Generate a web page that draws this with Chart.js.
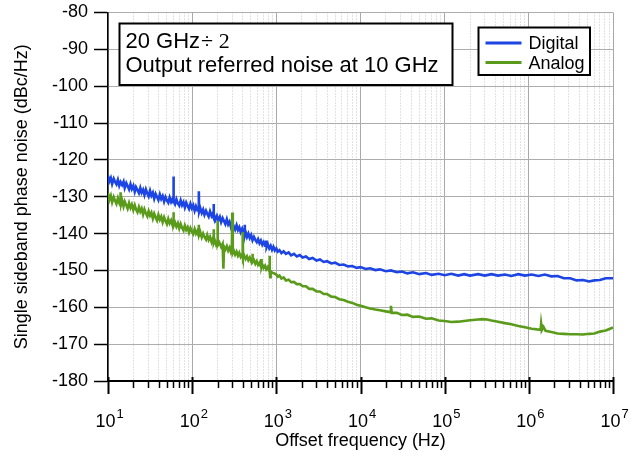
<!DOCTYPE html>
<html>
<head>
<meta charset="utf-8">
<script src="https://cdn.jsdelivr.net/npm/chart.js@4.4.1/dist/chart.umd.min.js"></script>
<style>
  html,body{margin:0;padding:0;background:#fff}
  #wrap{width:637px;height:456px}
</style>
</head>
<body>
<div id="wrap"><canvas id="c"></canvas></div>
<script>
// [offset frequency Hz, dBc/Hz]
const digitalTrace = [
  [10,-124.3],[10.4,-125.8],[10.8,-124.9],[11.2,-126.5],[11.7,-125.1],[12.1,-125.9],[12.6,-126.6],[13.1,-125.4],[13.6,-127.0],[14.1,-126.0],
  [14.7,-126.8],[15.3,-125.9],[15.8,-127.6],[16.5,-126.3],[17.1,-127.1],[17.8,-128.0],[18.5,-126.6],[19.2,-127.9],[20,-127.0],[20.8,-128.6],
  [21.5,-127.4],[22.4,-128.2],[23.3,-129.0],[24.2,-127.6],[25.1,-128.9],[26.1,-128.1],[27.1,-129.5],[28.2,-128.0],[29.3,-129.1],[30.4,-129.9],
  [31.6,-128.4],[32.8,-129.7],[34.1,-128.9],[35.4,-130.5],[36.8,-129.2],[38.2,-130.0],[39.7,-130.9],[41.3,-129.4],[42.9,-130.6],[44.6,-129.8],
  [46.4,-131.3],[48.2,-130.1],[50.1,-131.0],[52,-131.6],[54,-130.2],[56.2,-131.4],[58.4,-130.6],[59.6,-131.5],[60,-124.5],[60.4,-131.2],
  [62.6,-132.0],[65,-130.7],[67.6,-131.8],[70.2,-132.4],[73,-131.0],[75.8,-132.3],[78.8,-131.5],[81.8,-132.9],[85,-131.6],[88.3,-132.5],
  [91.8,-133.3],[95.4,-131.9],[99.1,-133.1],[103,-132.3],[107,-133.8],[111,-132.6],[115,-133.5],[119,-133.0],[120,-128.5],[121,-134.1],
  [125,-133.1],[130,-134.4],[135,-133.5],[140,-134.9],[146,-133.8],[151,-134.6],[157,-135.4],[163,-134.0],[170,-135.2],[176,-134.5],
  [179,-135.6],[180,-132.0],[181,-135.8],[183,-135.1],[190,-136.2],[197,-135.2],[205,-136.4],[213,-135.5],[221,-136.9],[230,-135.8],
  [239,-136.6],[248,-137.4],[258,-136.1],[268,-137.5],[278,-136.8],[289,-138.2],[300,-137.1],[312,-138.0],[324,-138.9],[337,-137.7],
  [350,-139.0],[363,-138.3],[377,-139.6],[392,-138.7],[407,-139.9],[416,-139.4],[420,-137.6],[424,-140.4],[431,-139.5],[448,-140.9],
  [465,-140.0],[483,-141.2],[502,-140.4],[521,-141.8],[542,-140.9],[563,-141.7],[585,-142.3],[607,-141.5],[631,-142.6],[655,-141.9],
  [681,-143.0],[707,-142.3],[735,-143.3],[753,-142.7],[760,-141.9],[767,-143.7],[793,-142.9],[824,-144.0],[856,-143.3],[889,-144.4],
  [924,-143.6],[960,-144.6],[1000,-144.0],[1040,-144.9],[1090,-144.5],[1150,-145.3],[1220,-144.8],[1300,-145.5],[1400,-145.1],[1500,-145.9],
  [1620,-145.5],[1750,-146.2],[1900,-145.8],[2050,-146.5],[2250,-146.2],[2450,-146.9],[2700,-146.6],[3000,-147.3],[3300,-147.0],[3650,-147.7],
  [4000,-147.5],[4500,-148.1],[5000,-147.9],[5600,-148.5],[6300,-148.4],[7100,-148.9],[8000,-148.8],[9000,-149.3],[1e4,-149.1],[1.15e4,-149.6],
  [1.3e4,-149.4],[1.5e4,-149.9],[1.7e4,-149.7],[2e4,-150.2],[2.3e4,-150.0],[2.7e4,-150.5],[3.1e4,-150.3],[3.6e4,-150.8],[4.2e4,-150.5],[5e4,-151.0],
  [6e4,-150.7],[7e4,-151.2],[8.5e4,-150.9],[1e5,-151.3],[1.2e5,-150.9],[1.45e5,-151.4],[1.7e5,-151.0],[2e5,-151.4],[2.5e5,-151.0],[3e5,-151.4],
  [3.6e5,-151.0],[4.3e5,-151.4],[5.2e5,-151.1],[6.2e5,-151.5],[7.5e5,-151.0],[9e5,-151.4],[1.08e6,-151.1],[1.3e6,-151.5],[1.55e6,-151.1],[1.85e6,-151.6],
  [2.2e6,-151.5],[2.6e6,-152.1],[3.1e6,-152.1],[3.7e6,-152.7],[4.4e6,-152.6],[5.2e6,-153.0],[6e6,-152.7],[7e6,-152.6],[8.2e6,-152.1],[1e7,-152.1]
];
const analogTrace = [
  [10,-129.0],[10.4,-130.8],[10.8,-129.7],[11.2,-131.5],[11.7,-130.1],[12.1,-131.0],[12.6,-131.9],[13.1,-130.4],[13.6,-131.6],[13.9,-130.9],
  [14.1,-128.8],[14.3,-132.0],[14.7,-131.0],[15.3,-132.6],[15.8,-131.3],[16.5,-132.3],[17.1,-133.2],[17.8,-131.7],[18.5,-133.0],[19.2,-132.1],
  [20,-133.6],[20.8,-132.3],[21.5,-133.4],[22.4,-134.2],[23.3,-132.8],[24.2,-134.0],[25.1,-133.2],[26.1,-134.8],[27.1,-133.4],[28.2,-134.5],
  [29.3,-135.3],[30.4,-133.9],[31.6,-135.1],[32.8,-134.3],[34.1,-135.9],[35.4,-134.6],[36.8,-135.6],[38.2,-136.4],[39.7,-134.9],[41.3,-136.2],
  [42.9,-135.4],[44.6,-136.9],[46.4,-135.6],[48.2,-136.6],[50.1,-137.4],[52,-136.0],[54,-137.2],[56.2,-136.4],[58.4,-137.7],[59.6,-136.8],
  [60,-134.2],[60.4,-137.9],[62.6,-137.0],[65,-138.1],[67.6,-137.2],[70.2,-138.6],[73,-137.4],[75.8,-138.4],[78.8,-139.1],[81.8,-137.8],
  [85,-139.0],[88.3,-138.3],[91.8,-139.7],[95.4,-138.5],[99.1,-139.4],[103,-140.1],[107,-138.8],[111,-140.0],[115,-139.3],[119,-140.5],
  [120,-137.6],[121,-140.4],[125,-139.6],[130,-141.0],[135,-140.0],[140,-140.9],[146,-141.6],[151,-140.4],[157,-141.7],[163,-140.9],
  [170,-142.3],[176,-141.3],[179,-142.1],[180,-138.8],[181,-142.6],[186,-141.9],[192,-142.9],[198,-142.2],[200,-136.5],[202,-143.2],
  [210,-142.4],[221,-143.6],[230,-142.8],[235,-149.5],[239,-143.6],[248,-144.3],[258,-143.4],[268,-144.6],[278,-143.8],[289,-145.0],
  [296,-144.4],[300,-134.3],[304,-145.2],[312,-144.6],[324,-145.7],[337,-144.9],[350,-146.0],[363,-145.2],[377,-146.3],[392,-145.6],
  [397,-146.4],[400,-139.6],[403,-146.6],[414,-145.9],[431,-146.9],[448,-146.2],[465,-147.2],[483,-146.5],[502,-147.5],[515,-146.9],
  [520,-145.5],[525,-147.7],[542,-147.2],[563,-148.2],[585,-147.5],[607,-148.5],[631,-147.9],[652,-148.8],[660,-146.9],[668,-149.0],
  [681,-148.4],[707,-149.3],[735,-148.7],[760,-149.7],[790,-149.1],[820,-150.1],[830,-146.0],[838,-150.3],[846,-151.8],[856,-150.2],
  [889,-150.6],[924,-150.7],[960,-150.9],[1000,-151.1],[1040,-151.7],[1090,-151.4],[1150,-152.2],[1220,-151.9],[1300,-152.7],[1400,-152.5],
  [1500,-153.2],[1620,-153.1],[1750,-153.7],[1900,-153.7],[2050,-154.3],[2250,-154.3],[2450,-155.0],[2700,-155.0],[3000,-155.7],[3300,-155.7],
  [3650,-156.4],[4000,-156.4],[4500,-157.1],[5000,-157.2],[5600,-157.8],[6300,-158.0],[7100,-158.5],[8000,-158.8],[9000,-159.3],[1e4,-159.6],
  [1.15e4,-160.0],[1.3e4,-160.3],[1.5e4,-160.6],[1.7e4,-160.8],[2e4,-161.1],[2.25e4,-161.3],[2.3e4,-159.6],[2.35e4,-161.5],[2.7e4,-161.5],[3.1e4,-162.1],
  [3.6e4,-162.0],[4.2e4,-162.6],[5e4,-162.5],[6e4,-163.1],[7e4,-163.0],[8.5e4,-163.6],[1e5,-163.7],[1.2e5,-164.0],[1.45e5,-163.9],[1.7e5,-163.7],
  [2e5,-163.5],[2.5e5,-163.3],[2.8e5,-163.2],[3.2e5,-163.3],[3.6e5,-163.6],[4.3e5,-163.9],[5.2e5,-164.3],[6.2e5,-164.6],[7.5e5,-165.1],[9e5,-165.4],
  [1.08e6,-165.8],[1.25e6,-166.0],[1.38e6,-166.1],[1.4e6,-164.5],[1.43e6,-166.2],[1.5e6,-165.4],[1.58e6,-166.4],[1.85e6,-166.7],[2.2e6,-167.1],[2.6e6,-167.2],
  [3.1e6,-167.3],[3.7e6,-167.3],[4.4e6,-167.4],[5.2e6,-167.2],[6e6,-167.1],[7e6,-166.6],[8.2e6,-166.3],[1e7,-165.5]
];
const seriesNames = ['Digital', 'Analog'];
const seriesColors = ['#1c45e3', '#5a9b1b'];
const decadeTicks = [10, 100, 1e3, 1e4, 1e5, 1e6, 1e7];
const noteLines = ['20 GHz', '÷ 2', 'Output referred noise at 10 GHz'];

const FONT = '"Liberation Sans", Arial, sans-serif';
const isDecade = v => Math.abs(Math.log10(v) - Math.round(Math.log10(v))) < 1e-9;
// grid positions: 1..9 x each decade, plus the last decade
const gridValues = [];
decadeTicks.slice(0, -1).forEach(d => { for (let m = 1; m < 10; m++) gridValues.push(m * d); });
gridValues.push(decadeTicks[decadeTicks.length - 1]);

const toXY = arr => arr.map(p => ({x: p[0], y: p[1]}));

const decor = {
  id: 'decor',
  afterDraw(chart) {
    const {ctx, chartArea: a, scales: {x}} = chart;
    ctx.save();
    ctx.strokeStyle = '#000';
    ctx.fillStyle = '#000';
    // x tick marks, long at decades
    gridValues.forEach(v => {
      const px = Math.round(x.getPixelForValue(v)) + 0.5;
      const major = isDecade(v);
      ctx.lineWidth = major ? 2 : 1.5;
      ctx.beginPath();
      ctx.moveTo(px, a.bottom - (major ? 4 : 0));
      ctx.lineTo(px, a.bottom + (major ? 13 : 7));
      ctx.stroke();
    });
    // decade labels 10^n
    decadeTicks.forEach(v => {
      const cx = x.getPixelForValue(v) - 2.5;
      ctx.font = '18px ' + FONT;
      ctx.textAlign = 'center';
      ctx.textBaseline = 'alphabetic';
      ctx.fillText('10', cx, a.bottom + 46);
      ctx.font = '13px ' + FONT;
      ctx.textAlign = 'left';
      ctx.fillText(String(Math.round(Math.log10(v))), cx + 11, a.bottom + 37);
    });

    // note box
    const nx = a.left + 11.5, ny = a.top + 11;
    ctx.fillStyle = '#fff';
    ctx.fillRect(nx, ny, 333, 61.5);
    ctx.lineWidth = 2;
    ctx.strokeRect(nx, ny, 333, 61.5);
    ctx.fillStyle = '#000';
    ctx.textAlign = 'left';
    ctx.font = '22px ' + FONT;
    ctx.fillText(noteLines[0], nx + 6, ny + 24.5);
    const w0 = ctx.measureText(noteLines[0]).width;
    ctx.font = '22px "Liberation Serif", "Times New Roman", serif';
    ctx.fillText(noteLines[1], nx + 6 + w0 + 1, ny + 24.5);
    ctx.font = '22px ' + FONT;
    ctx.fillText(noteLines[2], nx + 6, ny + 48.5);

    // legend box
    const lx = a.left + 370.5, ly = a.top + 15;
    ctx.fillStyle = '#fff';
    ctx.fillRect(lx, ly, 111.5, 47.5);
    ctx.strokeRect(lx, ly, 111.5, 47.5);
    ctx.font = '18px ' + FONT;
    seriesNames.forEach((name, i) => {
      const yy = ly + 15.5 + i * 19.6;
      ctx.strokeStyle = seriesColors[i];
      ctx.lineWidth = 3;
      ctx.beginPath();
      ctx.moveTo(lx + 7, yy);
      ctx.lineTo(lx + 43, yy);
      ctx.stroke();
      ctx.fillStyle = '#000';
      ctx.fillText(name, lx + 50, yy + 6);
    });
    ctx.restore();
  }
};

Chart.defaults.font.family = FONT;
Chart.defaults.color = '#000';

new Chart(document.getElementById('c'), {
  type: 'line',
  data: {
    datasets: [
      {label: seriesNames[0], data: toXY(digitalTrace), borderColor: seriesColors[0], borderWidth: 2.6, pointRadius: 0, order: 1},
      {label: seriesNames[1], data: toXY(analogTrace), borderColor: seriesColors[1], borderWidth: 2.6, pointRadius: 0, order: 0}
    ]
  },
  options: {
    responsive: true,
    maintainAspectRatio: false,
    animation: false,
    layout: {padding: {top: 12.5, right: 24, left: 0, bottom: 0}},
    plugins: {legend: {display: false}, tooltip: {enabled: false}},
    scales: {
      x: {
        type: 'logarithmic',
        min: 10,
        max: 1e7,
        afterBuildTicks: s => { s.ticks = gridValues.map(v => ({value: v, major: isDecade(v)})); },
        ticks: {display: false},
        grid: {
          color: c => (c.tick && isDecade(c.tick.value)) ? '#a9a9a9' : '#c4c4c4',
          lineWidth: 1,
          drawTicks: false
        },
        border: {color: '#000', width: 2, dash: c => (c.tick && !isDecade(c.tick.value)) ? [1, 2] : []},
        title: {display: true, text: 'Offset frequency (Hz)', font: {size: 18}, color: '#000', padding: {top: 0, bottom: 4}},
        afterFit: s => { s.height = 75; }
      },
      y: {
        min: -180,
        max: -80,
        ticks: {stepSize: 10, font: {size: 18}, color: '#000', padding: 6},
        grid: {color: '#adadad', tickColor: '#000', tickLength: 14, tickWidth: 1.5},
        border: {color: '#000', width: 1.5},
        title: {display: true, text: 'Single sideband phase noise (dBc/Hz)', font: {size: 18}, color: '#000', padding: {top: 11}},
        afterFit: s => { s.width = 108; s.paddingTop = 0; s.paddingBottom = 0; }
      }
    }
  },
  plugins: [decor]
});
</script>
</body>
</html>
